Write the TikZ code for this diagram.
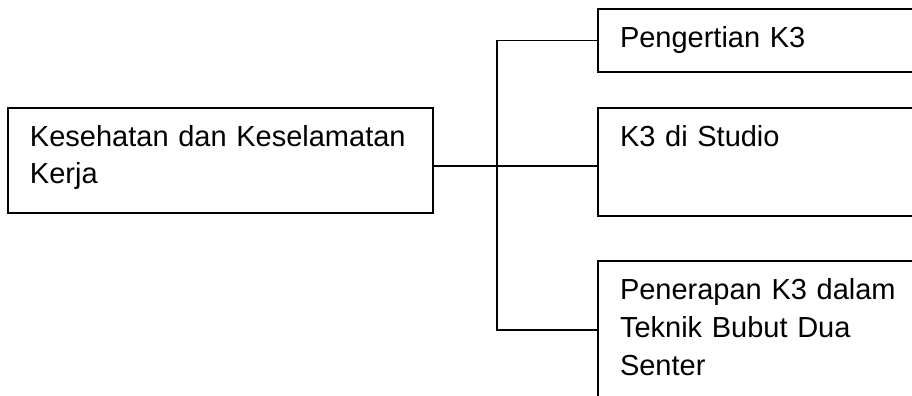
\documentclass[tikz,border=0pt]{standalone}
\usepackage{fontspec}
\setmainfont{Liberation Sans}
\usetikzlibrary{calc}

\begin{document}
\begin{tikzpicture}[x=0.5pt,y=-0.5pt,
    box/.style={draw,line width=0.7pt,anchor=north west,inner xsep=11pt,inner ysep=0pt,outer sep=0pt,text height=19pt,align=left,font=\fontsize{14.5}{19}\selectfont},
    link/.style={line width=0.7pt}]
\useasboundingbox (0,0) rectangle (912,396);
\clip (0,0) rectangle (912,396);

\node[box,text width=190.5pt,text depth=33.5pt] (k3) at (8,108) {Kesehatan dan Keselamatan\\Kerja};
\node[box,text width=160pt,text depth=12.5pt] (pengertian) at (598,9) {Pengertian K3};
\node[box,text width=160pt,text depth=35pt] (studio) at (598,108) {K3 di Studio};
\node[box,text width=160pt,text depth=60pt] (penerapan) at (598,261) {Penerapan K3 dalam\\Teknik Bubut Dua\\Senter};

\coordinate (hub) at (497,166);
\draw[link] (k3.east |- hub) -- (studio.west |- hub); %Studio
\draw[link] (pengertian.west) -| (hub); %Pengertian
\draw[link] ($(penerapan.north west)+(0,69)$) -| (hub); %Penerapan
\end{tikzpicture}
\end{document}
